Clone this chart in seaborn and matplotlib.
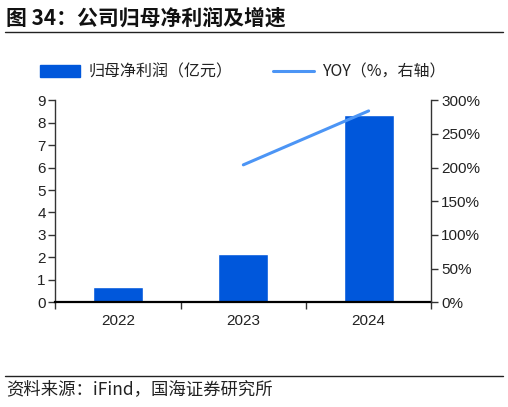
import numpy as np
import pandas as pd
import matplotlib
matplotlib.use("Agg")
import matplotlib.pyplot as plt
import seaborn as sns
from matplotlib.lines import Line2D
from matplotlib.patches import Patch
from matplotlib.ticker import FixedLocator, PercentFormatter

# 数据
years = ["2022", "2023", "2024"]
profit = [0.70, 2.15, 8.35]          # 归母净利润（亿元）
yoy = [np.nan, 204.0, 284.0]         # YOY（%）

bar_color = "#0057DB"
line_color = "#4C95F5"

sns.set_theme(style="white")
plt.rcParams["font.family"] = ["Liberation Sans", "Noto Sans CJK SC", "DejaVu Sans"]
cjk = ["Noto Sans CJK SC", "DejaVu Sans"]

df = pd.DataFrame({"year": years, "profit": profit, "yoy": yoy})
df["pos"] = np.arange(len(df))

fig = plt.figure(figsize=(5.08, 4.07), dpi=100)
ax = fig.add_axes([0.109, 0.257, 0.740, 0.497])

sns.barplot(data=df, x="year", y="profit", color=bar_color, width=0.4,
            saturation=1, ax=ax)
ax.set_xlim(-0.5, 2.5)
ax.set_ylim(0, 9)
ax.set_yticks(range(0, 10))
ax.set_xlabel("")
ax.set_ylabel("")

# x 轴：刻度在类别边界，标签居中
ax.xaxis.set_major_locator(FixedLocator([-0.5, 0.5, 1.5, 2.5]))
ax.xaxis.set_minor_locator(FixedLocator(df["pos"].tolist()))
ax.set_xticklabels([])
ax.set_xticklabels(years, minor=True)
ax.tick_params(axis="x", which="major", direction="out", length=5, width=1,
               color="#333333", bottom=True)
ax.tick_params(axis="x", which="minor", length=0, pad=8, labelsize=11,
               labelcolor="#222222")
ax.tick_params(axis="y", direction="out", length=5, width=1, color="#333333",
               left=True, labelsize=11, labelcolor="#222222", pad=2)

for s in ["top", "right"]:
    ax.spines[s].set_visible(False)
ax.spines["left"].set_color("#333333")
ax.spines["left"].set_linewidth(1)
ax.spines["bottom"].set_color("black")
ax.spines["bottom"].set_linewidth(1.6)

# 右轴 YOY
ax2 = ax.twinx()
line_df = df.dropna(subset=["yoy"])
sns.lineplot(data=line_df, x="pos", y="yoy", color=line_color, linewidth=2.2,
             ax=ax2)
ax2.set_ylim(0, 300)
ax2.set_yticks(range(0, 301, 50))
ax2.yaxis.set_major_formatter(PercentFormatter(decimals=0))
ax2.set_xlabel("")
ax2.set_ylabel("")
ax2.tick_params(axis="y", direction="out", length=5, width=1, color="#333333",
                right=True, labelsize=11, labelcolor="#222222", pad=2)
for s in ["top", "left", "bottom"]:
    ax2.spines[s].set_visible(False)
ax2.spines["right"].set_color("#333333")
ax2.spines["right"].set_linewidth(1)
ax2.set_xlim(-0.5, 2.5)

# 图例（两个分开放置）
leg_kw = dict(loc="center left", frameon=False, borderpad=0, borderaxespad=0,
              prop={"family": cjk, "size": 11.5}, handletextpad=0.5,
              handleheight=0.75)
leg1 = fig.legend([Patch(facecolor=bar_color, edgecolor=bar_color)],
                  ["归母净利润（亿元）"], bbox_to_anchor=(0.079, 0.823),
                  handlelength=2.5, **leg_kw)
leg2 = fig.legend([Line2D([0], [0], color=line_color, linewidth=2.2)],
                  ["YOY（%，右轴）"], bbox_to_anchor=(0.537, 0.823),
                  handlelength=2.6, **leg_kw)
for leg in (leg1, leg2):
    for t in leg.get_texts():
        t.set_color("#222222")

# 标题与来源
fig.text(0.012, 0.955, "图 34：公司归母净利润及增速", family=cjk,
         fontsize=15, fontweight="bold", ha="left", va="center", color="#111111")
fig.add_artist(Line2D([0.01, 0.99], [0.921, 0.921], color="#222222", linewidth=1))
fig.add_artist(Line2D([0.01, 0.99], [0.076, 0.076], color="#222222", linewidth=1))
fig.text(0.012, 0.045, "资料来源：iFind，国海证券研究所", family=cjk,
         fontsize=12.5, ha="left", va="center", color="#222222")

fig.savefig("out.png", dpi=100)
